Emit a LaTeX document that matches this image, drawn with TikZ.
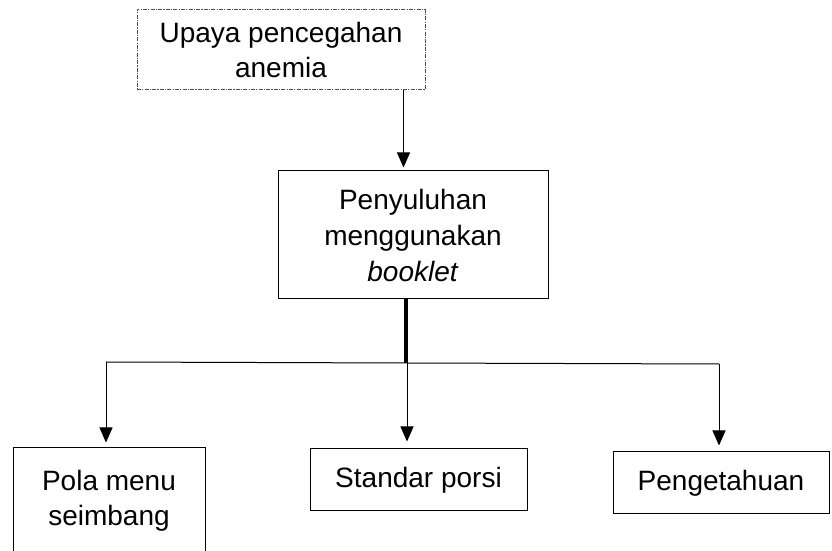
\documentclass[tikz,border=0pt]{standalone}
\usepackage{fontspec}
\setmainfont{Liberation Sans}
\usetikzlibrary{arrows.meta,positioning}

\begin{document}
\begin{tikzpicture}[
    x=0.5pt, y=-0.5pt,
    comp/.style={draw, line width=0.5pt, fill=white, align=center, inner sep=0pt,
                 font=\fontsize{14pt}{17.5pt}\selectfont},
    dotcomp/.style={comp, draw=black!70, dash pattern=on 2pt off 0.6pt on 0.6pt off 0.6pt},
    arrow/.style={-{Triangle[length=7.5pt, width=6.5pt]}, line width=0.5pt},
    trunk/.style={line width=1.6pt}
]
\useasboundingbox (0,0) rectangle (832,551);

% top and middle
\node[dotcomp, minimum width=144pt, minimum height=40pt] (upaya) at (281,49.5) {Upaya pencegahan\\anemia};
\node[comp, minimum width=135pt, minimum height=64pt, font=\fontsize{14pt}{18pt}\selectfont] (penyuluhan) at (413,235) {Penyuluhan\\menggunakan\\\textit{booklet}};

% bottom row
\node[comp, minimum width=96pt, minimum height=73pt] (menu) at (109,521) {Pola menu\\seimbang\\\strut};
\node[comp, minimum width=108.5pt, minimum height=31pt] (porsi) at (418.5,480) {Standar porsi};
\node[comp, minimum width=108pt, minimum height=31pt] (pengetahuan) at (721,483) {Pengetahuan};

% branch points
\coordinate (split) at (406,363);
\coordinate (jl) at (106,362);
\coordinate (jm) at (407,363);
\coordinate (jr) at (719,364);

% arrows
\draw[arrow, shorten >=1.5pt] ([xshift=-11pt]upaya.south east) -- ([xshift=-11pt]upaya.south east |- penyuluhan.north);
\draw[trunk] (penyuluhan.south -| split) -- (split);
\draw[line width=0.5pt] (jl) -- (jm) -- (jr);
\draw[arrow, shorten >=2.5pt] (jl) -- (jl |- menu.north);
\draw[arrow, shorten >=3.5pt] (jm) -- (jm |- porsi.north);
\draw[arrow, shorten >=3pt] (jr) -- (jr |- pengetahuan.north);

\end{tikzpicture}
\end{document}
